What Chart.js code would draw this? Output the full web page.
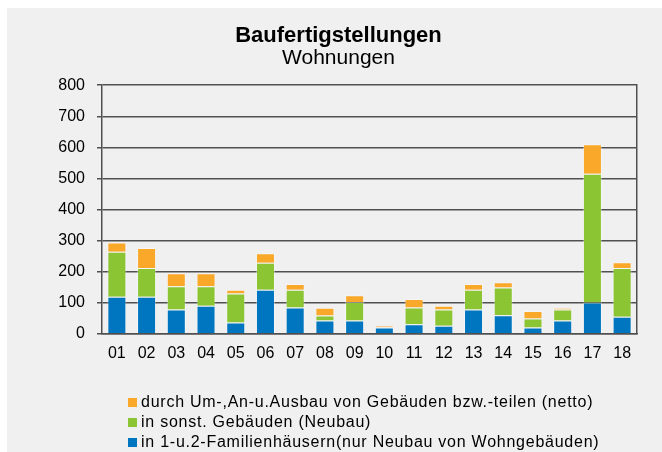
<!DOCTYPE html>
<html>
<head>
<meta charset="utf-8">
<script src="https://cdn.jsdelivr.net/npm/chart.js@4"></script>
<style>
  html, body { margin: 0; padding: 0; background: #fff; }
  #box { position: absolute; left: 7px; top: 8px; width: 655px; height: 444px; background: #f0f0f0; }
  #legend { position: absolute; left: 121px; top: 384px; font: 16px "Liberation Sans", Arial, sans-serif; letter-spacing: 0.75px; color: #000; }
  #legend div { height: 20px; line-height: 20px; white-space: nowrap; }
  #legend span { display: inline-block; width: 9px; height: 9px; margin-right: 4px; vertical-align: 0px; }
</style>
</head>
<body>
<div id="box">
  <canvas id="c" width="655" height="444"></canvas>
  <div id="legend"></div>
</div>
<script>
// Baufertigstellungen – Wohnungen, gestapelte Säulen
const categories = ['01','02','03','04','05','06','07','08','09','10','11','12','13','14','15','16','17','18'];

// in 1-u.2-Familienhäusern (Neubau)
const familyHouses = [119, 119, 78, 90, 36, 142, 85, 43, 43, 20, 31, 26, 78, 60, 20, 43, 101, 55];
// in sonst. Gebäuden (Neubau)
const otherBuildings = [145, 93, 75, 63, 94, 87, 57, 16, 59, 1, 54, 52, 64, 89, 29, 35, 414, 157];
// durch Um-,An-u.Ausbau (netto)
const conversions = [30, 64, 42, 42, 12, 30, 18, 25, 22, 5, 27, 12, 18, 17, 24, 6, 95, 18];

const seriesLabels = [
  'in 1-u.2-Familienhäusern(nur Neubau von Wohngebäuden)',
  'in sonst. Gebäuden (Neubau)',
  'durch Um-,An-u.Ausbau von Gebäuden bzw.-teilen (netto)'
];
const seriesColors = ['#0076c0', '#8cc534', '#f9a82a'];

const yMax = 800;
const yStep = 100;

const FONT = '"Liberation Sans", Arial, sans-serif';

const datasets = [familyHouses, otherBuildings, conversions].map((d, i) => ({
  label: seriesLabels[i],
  data: d,
  backgroundColor: seriesColors[i],
  borderColor: 'rgba(255,255,255,0.35)',
  borderWidth: 1,
  barPercentage: 0.64,
  categoryPercentage: 1
}));

new Chart(document.getElementById('c'), {
  type: 'bar',
  data: { labels: categories, datasets },
  options: {
    responsive: false,
    animation: false,
    layout: { padding: { left: 8, right: 0, top: 0, bottom: 79 } },
    plugins: {
      legend: { display: false },
      tooltip: { enabled: false },
      title: {
        display: true,
        text: 'Baufertigstellungen',
        color: '#000',
        font: { family: FONT, size: 22, weight: 'bold', lineHeight: 1.1 },
        padding: { top: 16, bottom: 0 }
      },
      subtitle: {
        display: true,
        text: 'Wohnungen',
        color: '#000',
        font: { family: FONT, size: 21, weight: 'normal', lineHeight: 1.0 },
        padding: { top: 0, bottom: 16 }
      }
    },
    scales: {
      x: {
        stacked: true,
        grid: { display: false, drawTicks: false },
        border: { display: true, color: '#505050', width: 1.5 },
        ticks: { color: '#000', font: { family: FONT, size: 16 }, padding: 10, maxRotation: 0 }
      },
      y: {
        stacked: true,
        min: 0,
        max: yMax,
        afterFit: s => { s.width = 87; },
        grid: { color: '#505050', lineWidth: 1.5, tickLength: 5 },
        border: { display: true, color: '#505050', width: 1.5 },
        ticks: { stepSize: yStep, color: '#000', font: { family: FONT, size: 16 }, padding: 12 }
      },
      yRight: {
        position: 'right',
        min: 0,
        max: yMax,
        afterFit: s => { s.width = 25; },
        grid: { drawOnChartArea: false, drawTicks: false },
        border: { display: true, color: '#505050', width: 1.5 },
        ticks: { display: false }
      }
    }
  }
});

// legend, reversed order like the original
const legend = document.getElementById('legend');
[2, 1, 0].forEach(i => {
  const row = document.createElement('div');
  const sw = document.createElement('span');
  sw.style.background = seriesColors[i];
  row.appendChild(sw);
  row.appendChild(document.createTextNode(seriesLabels[i]));
  legend.appendChild(row);
});
</script>
</body>
</html>
